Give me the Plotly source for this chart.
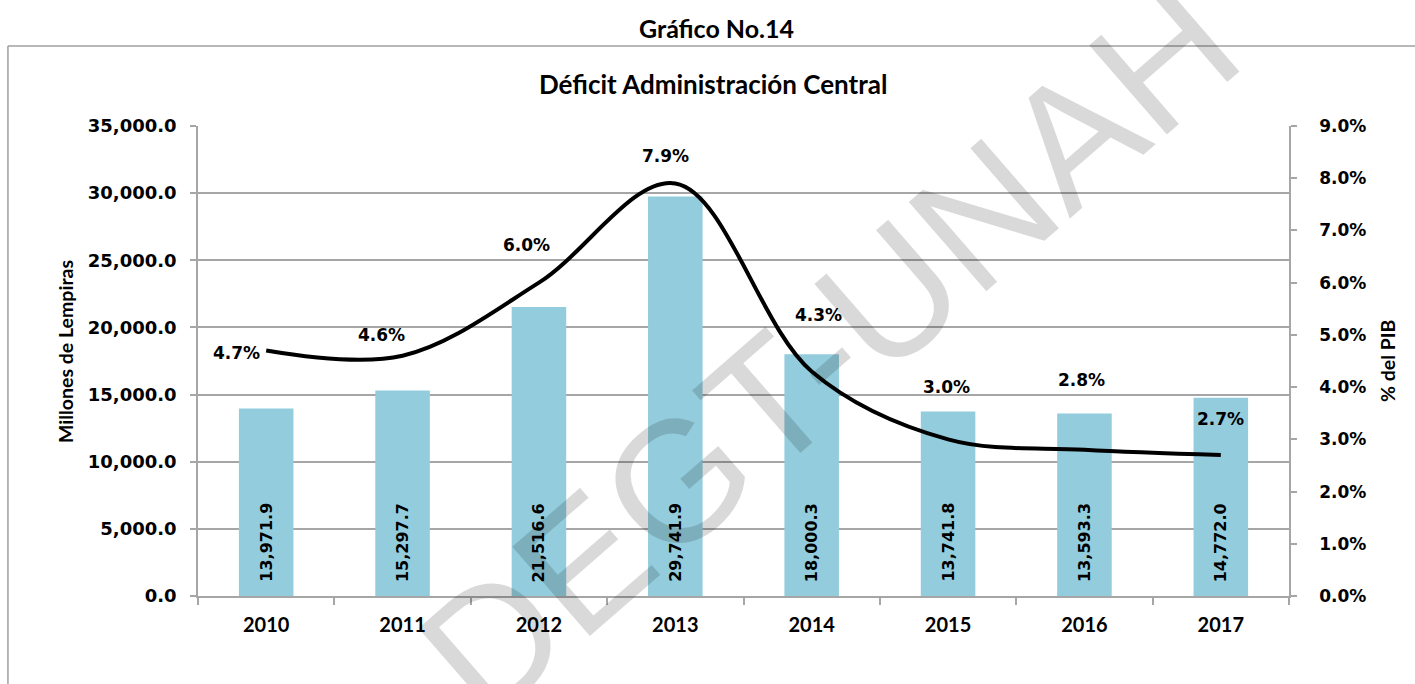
import plotly.graph_objects as go

# ---- data ----
years = ["2010", "2011", "2012", "2013", "2014", "2015", "2016", "2017"]
deficit_mill = [13971.9, 15297.7, 21516.6, 29741.9, 18000.3, 13741.8, 13593.3, 14772.0]
deficit_pib = [0.047, 0.046, 0.060, 0.079, 0.043, 0.030, 0.028, 0.027]
y_ticks = [0, 5000, 10000, 15000, 20000, 25000, 30000, 35000]
y2_ticks = [0.00, 0.01, 0.02, 0.03, 0.04, 0.05, 0.06, 0.07, 0.08, 0.09]

# ---- styling ----
BAR = "#93CDDD"
GRID = "#A6A6A6"
NUM_FONT = "DejaVu Sans"
TXT_FONT = "Lato"
pct_label_shift = [(-30, -2), (-21, 21), (-12, 38), (-10, 27), (7, 56), (-2, 52), (-3, 70), (0, 36)]

fig = go.Figure()

fig.add_trace(go.Bar(
    x=years, y=deficit_mill, marker=dict(color=BAR, line=dict(width=0)),
    width=0.40, name="Millones de Lempiras", hoverinfo="skip",
))

fig.add_trace(go.Scatter(
    x=years, y=deficit_pib, yaxis="y2", mode="lines",
    line=dict(color="black", width=4, shape="spline", smoothing=1.0),
    name="% del PIB", hoverinfo="skip",
))

annotations = []
# bar value labels (vertical, at base)
for i, v in enumerate(deficit_mill):
    annotations.append(dict(
        x=i, y=0, xref="x", yref="y", text=f"{v:,.1f}", textangle=-90,
        showarrow=False, xanchor="center", yanchor="bottom", yshift=12,
        font=dict(family=NUM_FONT, size=16, color="black", weight="bold"),
    ))
# percentage labels
for i, (p, (dx, dy)) in enumerate(zip(deficit_pib, pct_label_shift)):
    annotations.append(dict(
        x=i, y=p, xref="x", yref="y2", text=f"{p*100:.1f}%",
        showarrow=False, xshift=dx, yshift=dy, xanchor="center", yanchor="middle",
        font=dict(family=NUM_FONT, size=17, color="black", weight="bold"),
    ))

# titles
annotations += [
    dict(x=0.4748, y=1.2085, xref="paper", yref="paper", text="Gráfico No.14",
         showarrow=False, xanchor="center", yanchor="middle",
         font=dict(family=TXT_FONT, size=25, color="black", weight="bold")),
    dict(x=0.472, y=1.089, xref="paper", yref="paper", text="Déficit Administración Central",
         showarrow=False, xanchor="center", yanchor="middle",
         font=dict(family=TXT_FONT, size=26, color="black", weight="bold")),
    dict(x=-0.1219, y=0.519, xref="paper", yref="paper", text="Millones de Lempiras",
         textangle=-90, showarrow=False, xanchor="center", yanchor="middle",
         font=dict(family=TXT_FONT, size=19.5, color="black", weight="bold")),
    dict(x=1.0898, y=0.502, xref="paper", yref="paper", text="% del PIB",
         textangle=-90, showarrow=False, xanchor="center", yanchor="middle",
         font=dict(family=TXT_FONT, size=19.5, color="black", weight="bold")),
    # watermark
    dict(x=0.578, y=0.525, xref="paper", yref="paper", text="DEGT-UNAH",
         textangle=-41, showarrow=False, xanchor="center", yanchor="middle",
         font=dict(family="Liberation Sans", size=172, color="rgba(0,0,0,0.15)")),
]

shapes = [
    dict(type="line", xref="paper", yref="paper", x0=-0.1742, x1=1.2, y0=1.1702, y1=1.1702,
         line=dict(color="#A0A0A0", width=1.5)),
    dict(type="line", xref="paper", yref="paper", x0=-0.1742, x1=-0.1742, y0=1.1702, y1=-0.3,
         line=dict(color="#A0A0A0", width=1.5)),
]

fig.update_layout(
    width=1415, height=684,
    margin=dict(l=198, r=126, t=126, b=88, autoexpand=False),
    paper_bgcolor="white", plot_bgcolor="white",
    showlegend=False,
    annotations=annotations,
    shapes=shapes,
    xaxis=dict(
        type="category", range=[-0.5, 7.5], fixedrange=True,
        showgrid=False, showline=True, linecolor=GRID, linewidth=1.5,
        ticks="outside", tickson="boundaries", ticklen=7, tickcolor=GRID, tickwidth=1.5,
        tickfont=dict(family=TXT_FONT, size=20, color="black", weight="bold"),
        ticklabelstandoff=10, tickangle=0,
    ),
    yaxis=dict(
        range=[0, 35000], tickvals=y_ticks, tickformat=",.1f", fixedrange=True,
        showgrid=True, gridcolor=GRID, gridwidth=1.5,
        showline=True, linecolor=GRID, linewidth=1.5,
        ticks="outside", ticklen=6, tickcolor=GRID, tickwidth=1.5,
        tickfont=dict(family=NUM_FONT, size=18, color="black", weight="bold"),
        ticklabelstandoff=10, zeroline=False,
    ),
    yaxis2=dict(
        range=[0, 0.09], tickvals=y2_ticks, tickformat=".1%", overlaying="y", side="right",
        fixedrange=True,
        showgrid=False, showline=True, linecolor=GRID, linewidth=1.5,
        ticks="outside", ticklen=6, tickcolor=GRID, tickwidth=1.5,
        tickfont=dict(family=NUM_FONT, size=17, color="black", weight="bold"),
        ticklabelstandoff=19, zeroline=False,
    ),
)

fig.write_html("out.html", config={"displayModeBar": False},
               post_script="document.body.style.margin='0px';")
